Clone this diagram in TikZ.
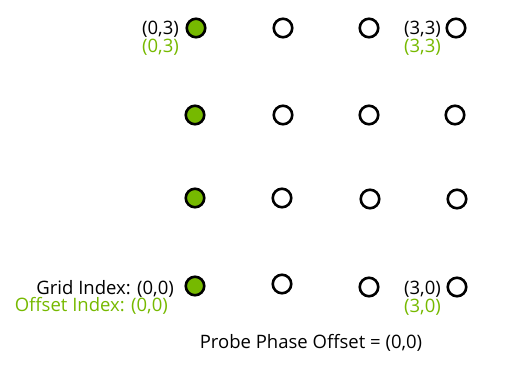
\documentclass[tikz,border=0pt]{standalone}
\usepackage{fontspec}
\setmainfont{Open Sans}
\definecolor{nvgreen}{HTML}{76B900}
\begin{document}
\begin{tikzpicture}[x=1pt,y=-1pt,
  pt/.style={circle,draw=black,line width=2.6pt,minimum size=18.5pt,inner sep=0pt,fill=white},
  gpt/.style={pt,fill=nvgreen},
  lbl/.style={font=\fontsize{18.5}{20}\selectfont,inner sep=0pt,text=black},
  glbl/.style={lbl,text=nvgreen}]
\useasboundingbox (0,0) rectangle (508,368);
% row 3 (top)
\node[gpt] (p03) at (196,28) {};
\node[pt]  (p13) at (283,28) {};
\node[pt]  (p23) at (369,28) {};
\node[pt]  (p33) at (456,28) {};
% row 2
\node[gpt] (p02) at (195,115) {};
\node[pt]  (p12) at (283,115) {};
\node[pt]  (p22) at (369,115) {};
\node[pt]  (p32) at (455,115) {};
% row 1
\node[gpt] (p01) at (195,198) {};
\node[pt]  (p11) at (282,198) {};
\node[pt]  (p21) at (370,199) {};
\node[pt]  (p31) at (457,199) {};
% row 0
\node[gpt] (p00) at (195,286) {};
\node[pt]  (p10) at (282,284) {};
\node[pt]  (p20) at (369,287) {};
\node[pt]  (p30) at (457,287) {};
% labels
\node[lbl,anchor=east] (l03) at (179,29) {(0,3)};
\node[glbl,anchor=east] (g03) at (179,47) {(0,3)};
\node[lbl,anchor=east] (l33) at (441,29) {(3,3)};
\node[glbl,anchor=east] (g33) at (441,47) {(3,3)};
\node[lbl,anchor=east] (l00) at (174,289) {Grid Index: (0,0)};
\node[glbl,anchor=east] (g00) at (168,306) {Offset Index: (0,0)};
\node[lbl,anchor=east] (l30) at (441,289) {(3,0)};
\node[glbl,anchor=east] (g30) at (441,307) {(3,0)};
\node[lbl] (probe) at (311,343) {Probe Phase Offset = (0,0)};
\end{tikzpicture}
\end{document}
